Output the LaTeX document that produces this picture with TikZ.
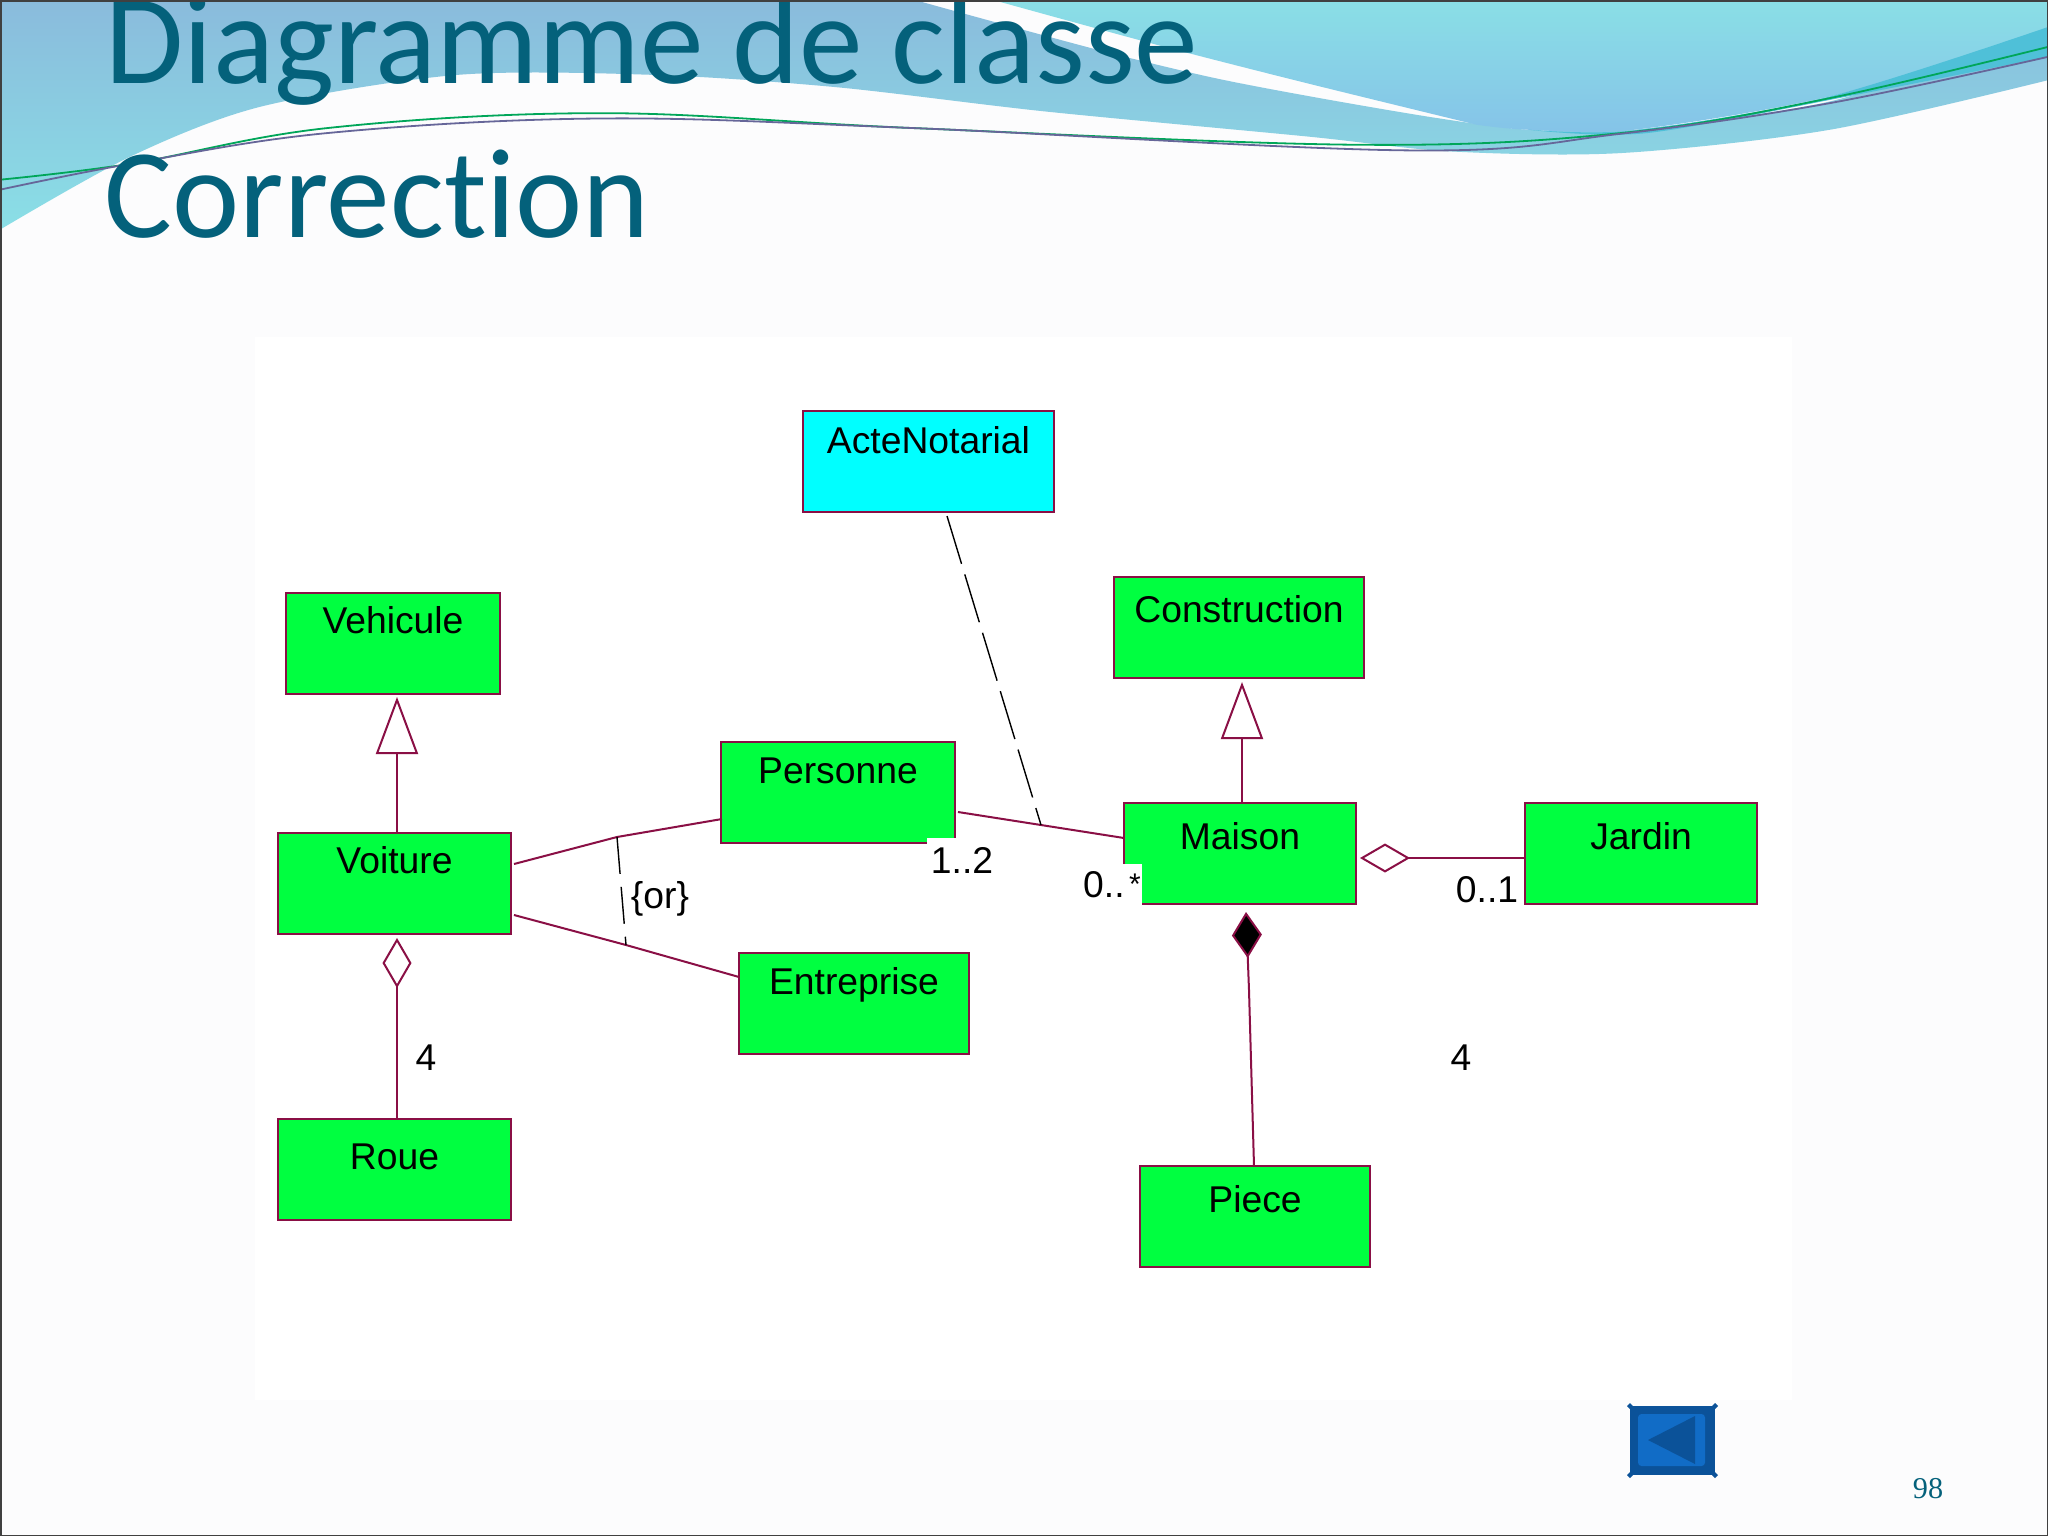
\documentclass[tikz,border=0pt]{standalone}
\usepackage{fontspec}
\setmainfont{Liberation Sans}
\newfontfamily\titlefont[Ligatures=NoCommon]{Carlito}
\newfontfamily\numfont{Liberation Serif}
\usetikzlibrary{arrows.meta}
\definecolor{pagebg}{HTML}{FCFCFD}
\definecolor{umlline}{HTML}{8A0F45}
\definecolor{umlgreen}{HTML}{00FF40}
\definecolor{umlcyan}{HTML}{00FFFF}
\definecolor{titleteal}{HTML}{04617B}
\definecolor{bandA}{HTML}{8ABBDC}
\definecolor{bandB}{HTML}{8ADFE6}
\definecolor{bandC}{HTML}{85C3E8}
\definecolor{bandD}{HTML}{4FC0D8}
\definecolor{btnD}{HTML}{0B5299}
\definecolor{btnL}{HTML}{116CC6}
\tikzset{
  classbox/.style={draw=umlline,fill=umlgreen,line width=0.025cm,inner sep=0pt,outer sep=0pt,font=\fontsize{10.6pt}{12pt}\selectfont,text height=#1cm,text depth=1.01cm-#1cm,anchor=north},
  classbox/.default=0.40,
  assoc/.style={draw=umlline,line width=0.02cm},
  notedash/.style={draw=black,line width=0.014cm,dash pattern=on 0.5cm off 0.11cm},
  ordash/.style={draw=black,line width=0.014cm,dash pattern=on 0.37cm off 0.13cm},
  tag/.style={inner sep=0pt,font=\fontsize{10.6pt}{12pt}\selectfont},
  gen/.style={assoc,-{Triangle[open,fill=white,length=0.57cm,width=0.42cm,line width=0.02cm]}},
  agg/.style={assoc,-{Diamond[open,fill=white,length=0.5cm,width=0.29cm,line width=0.02cm]}},
  comp/.style={assoc,-{Diamond[fill=black,length=0.46cm,width=0.30cm]}},
  patch/.style={fill=white,draw=none,inner sep=0pt},
  titletext/.style={anchor=base west,inner sep=0pt,text=titleteal,font=\titlefont\fontsize{36.2pt}{40pt}\selectfont},
}
\begin{document}
\begin{tikzpicture}[x=0.01cm,y=-0.01cm]
\useasboundingbox (0,0) rectangle (2048,1536);
\fill[pagebg] (0,0) rectangle (2048,1536);
\begin{scope}
\clip (0,0) rectangle (2048,1536);
% background swoosh, coordinates in the zoom grid of the top strip
\begin{scope}[x=0.013061cm,y=-0.003333cm]
\shade[top color=bandA,middle color=bandB,bottom color=bandB] (0,0) -- (700,0) -- plot[smooth,tension=.5] coordinates {(700,0) (760,65) (850,160) (930,235) (1010,295) (1100,355) (1170,390) (1250,390)}
 -- plot[smooth,tension=.5] coordinates {(1250,390) (1400,305) (1568,95)} -- (1568,240)
 -- plot[smooth,tension=.5] coordinates {(1568,240) (1400,390) (1240,460) (1110,455) (1000,410) (800,335) (640,262) (500,225) (350,225) (200,320) (100,470) (0,690)} -- cycle;
\shade[top color=bandB,bottom color=bandC] (760,0) -- (1568,0) -- (1568,95)
 -- plot[smooth,tension=.5] coordinates {(1568,95) (1400,290) (1250,390) (1170,390) (1130,375)}
 -- plot[smooth,tension=.5] coordinates {(1130,375) (1000,250) (900,150) (820,65) (760,0)} -- cycle;
\fill[bandD] plot[smooth,tension=.5] coordinates {(1170,390) (1250,392) (1400,290) (1568,80)} -- (1568,170) -- plot[smooth,tension=.5] coordinates {(1568,170) (1420,285) (1260,400) (1170,390)};
\draw[line width=0.018cm,color=teal!70!green] plot[smooth,tension=.6] coordinates {(0,540) (100,492) (250,385) (460,340) (700,385) (1040,435) (1240,400) (1400,295) (1568,140)};
\draw[line width=0.018cm,color=gray!80!blue] plot[smooth,tension=.6] coordinates {(0,570) (100,492) (250,400) (460,356) (700,385) (1080,452) (1240,402) (1400,310) (1568,170)};
\end{scope}
\node[titletext] (title1) at (105,83) {Diagramme de classe};
\node[titletext] (title2) at (104,237) {Correction};
\end{scope}
% diagram sheet
\fill[white] (255,337) rectangle (1792,1400);
% classes
\node[classbox=0.42,fill=umlcyan,minimum width=2.51cm] (acte) at (928.5,411) {ActeNotarial};
\node[classbox=0.40,minimum width=2.14cm] (vehicule) at (393,593) {Vehicule};
\node[classbox=0.45,minimum width=2.50cm] (construction) at (1239,577) {Construction};
\node[classbox=0.41,minimum width=2.34cm] (personne) at (838,742) {Personne};
\node[classbox=0.40,minimum width=2.33cm] (voiture) at (394.5,833) {Voiture};
\node[classbox=0.46,minimum width=2.32cm] (maison) at (1240,803) {Maison};
\node[classbox=0.46,minimum width=2.32cm] (jardin) at (1641,803) {Jardin};
\node[classbox=0.41,minimum width=2.30cm] (entreprise) at (854,953) {Entreprise};
\node[classbox=0.50,minimum width=2.33cm] (roue) at (394.5,1119) {Roue};
\node[classbox=0.46,minimum width=2.30cm] (piece) at (1255,1166) {Piece};
% white patches of the pasted multiplicities
\node[patch,anchor=north west,minimum width=0.33cm,minimum height=0.10cm] (patchA) at (926,837) {};
\node[patch,anchor=north east,minimum width=0.22cm,minimum height=0.44cm] (patchB) at (1143,863) {};
% junction and tip points
\coordinate (vp) at (617,837);
\coordinate (ve) at (626,945);
\coordinate (pm) at (1041,825);
\coordinate (actefoot) at (947,516);
\coordinate (voitA) at (514,864);
\coordinate (voitB) at (514,915);
\coordinate (persA) at (958,812);
\coordinate (persL) at (722,819);
\coordinate (maisL) at (1124,838);
\coordinate (entL) at (739,977);
\coordinate (tipVeh) at (397,697);
\coordinate (tipCon) at (1242,682);
\coordinate (tipVoi) at (397,938);
\coordinate (tipMai) at (1360,858);
\coordinate (tipCom) at (1246,912);
\coordinate (bendCom) at (1249,990);
\coordinate (footCom) at (1254,1166);
% connectors
\draw[gen] (voiture.north -| tipVeh) -- (tipVeh);
\draw[gen] (maison.north -| tipCon) -- (tipCon);
\draw[agg] (roue.north -| tipVoi) -- (tipVoi);
\draw[agg] (jardin.west |- tipMai) -- (tipMai);
\draw[comp] (footCom) -- (bendCom) -- (tipCom);
\draw[assoc] (voitA) -- (vp) -- (persL);
\draw[assoc] (voitB) -- (ve) -- (entL);
\draw[assoc] (persA) -- (pm) -- (maisL);
\draw[notedash] (actefoot) -- (pm);
\draw[ordash] (vp) -- (ve);
% labels
\node[tag] (l12) at (962,860) {1..2};
\node[tag] (l0s) at (1112,885) {0..\kern.12em\raisebox{.08em}{\fontsize{8.5pt}{10pt}\selectfont *}};
\node[tag] (l01) at (1487,890) {0..1};
\node[tag] (lor) at (660,899) {\{or\}};
\node[tag] (l4a) at (426,1058) {4};
\node[tag] (l4b) at (1461,1058) {4};
% back button
\fill[btnD] (1630,1406) rectangle (1715,1475);
\fill[btnL,rounded corners=1pt] (1638,1414) rectangle (1705,1466);
\fill[btnD] (1648,1440) -- (1695,1416) -- (1695,1464) -- cycle;
\foreach \px/\py in {1630/1406,1715/1406,1630/1475,1715/1475}
  \fill[btnD] (\px-3,\py) -- (\px,\py-3) -- (\px+3,\py) -- (\px,\py+3) -- cycle;
% page number
\node[anchor=base,inner sep=0pt,text=titleteal,font=\numfont\fontsize{8.6pt}{10pt}\selectfont] (pageno) at (1928,1498) {98};
% page frame
\draw[black!75,line width=0.03cm] (0,0) rectangle (2048,1536);
\end{tikzpicture}
\end{document}
